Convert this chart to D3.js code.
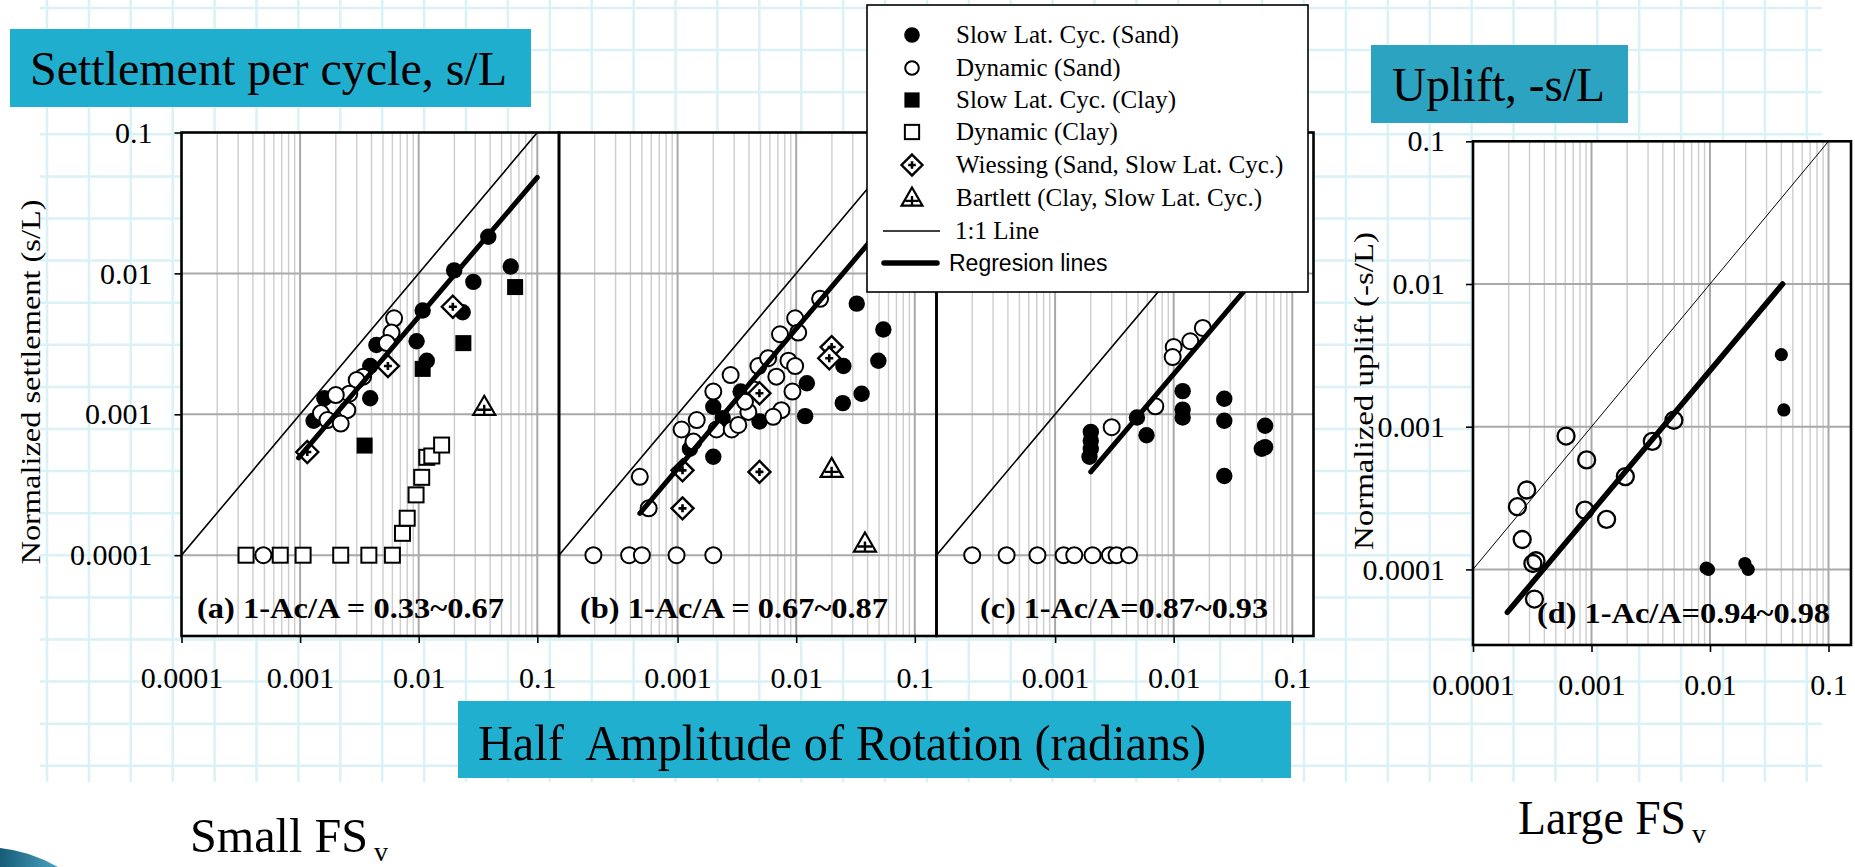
<!DOCTYPE html>
<html><head><meta charset="utf-8">
<script src="https://cdn.jsdelivr.net/npm/d3@7"></script>
<style>body{margin:0;background:#fff}svg{display:block}text{white-space:pre}</style>
</head><body>
<svg id="c" width="1855" height="867"></svg>
<script>
// ================= DATA =================
const xTickValsA = [1e-4, 1e-3, 1e-2, 1e-1];
const xTickTextA = ["0.0001", "0.001", "0.01", "0.1"];
const xTickValsBC = [1e-3, 1e-2, 1e-1];
const xTickTextBC = ["0.001", "0.01", "0.1"];
const yTickVals = [1e-1, 1e-2, 1e-3, 1e-4];
const yTickText = ["0.1", "0.01", "0.001", "0.0001"];

const panelLabels = ["(a) 1-Ac/A = 0.33~0.67", "(b) 1-Ac/A = 0.67~0.87", "(c) 1-Ac/A=0.87~0.93", "(d) 1-Ac/A=0.94~0.98"];
const legendLabels = ["Slow Lat. Cyc. (Sand)", "Dynamic (Sand)", "Slow Lat. Cyc. (Clay)", "Dynamic (Clay)",
  "Wiessing (Sand, Slow Lat. Cyc.)", "Bartlett (Clay, Slow Lat. Cyc.)", "1:1 Line", "Regresion lines"];
const legendTypes = ["fc", "oc", "fs", "os", "wd", "bt", "thin", "thick"];

const titleLeft = "Settlement per cycle, s/L";
const titleRight = "Uplift, -s/L";
const xTitle = "Half  Amplitude of Rotation (radians)";
const yTitleLeft = "Normalized settlement (s/L)";
const yTitleRight = "Normalized uplift (-s/L)";
const fsLabels = ["Small FS", "Large FS"];
const fsSub = "v";

const oneToOne = [[1e-4, 1e-4], [0.1, 0.1]];

// Panel (a)
const aSlowSand = [[0.0386,0.0182],[0.0199,0.0105],[0.0597,0.0112],[0.0289,0.0087],[0.0108,0.00545],[0.0235,0.0053],[0.0096,0.0033],[0.0117,0.0024],[0.0044,0.0031],[0.0039,0.0022],[0.0039,0.0013],[0.0016,0.0013],[0.0013,0.0009]];
const aDynSand = [[0.0062,0.0048],[0.0059,0.0038],[0.0054,0.0032],[0.0034,0.00185],[0.0030,0.00175],[0.0026,0.0014],[0.0020,0.00137],[0.0025,0.00107],[0.0015,0.00102],[0.0017,0.00091],[0.0022,0.00086],[0.00049,0.0001]];
const aSlowClay = [[0.065,0.008],[0.0238,0.0032],[0.0108,0.0021],[0.0035,0.0006]];
const aDynClay = [[0.00035,0.0001],[0.00068,0.0001],[0.00106,0.0001],[0.0022,0.0001],[0.0038,0.0001],[0.006,0.0001],[0.0073,0.000143],[0.008,0.000183],[0.0095,0.000268],[0.0106,0.000357],[0.0117,0.000495],[0.0129,0.000506],[0.0156,0.000605]];
const aWiessing = [[0.0194,0.0058],[0.0055,0.0022],[0.00115,0.00054]];
const aBartlett = [[0.0357,0.00113]];
const aRegression = [[0.00097,0.00049],[0.1,0.048]];

// Panel (b)
const bSlowSand = [[0.0324,0.0061],[0.0543,0.004],[0.0493,0.0024],[0.025,0.0022],[0.0356,0.0014],[0.0247,0.0012],[0.0123,0.00166],[0.0119,0.00097],[0.0049,0.00089],[0.0034,0.00145],[0.002,0.00113],[0.0024,0.00094],[0.00127,0.00057],[0.002,0.0005]];
const bDynSand = [[0.0159,0.0066],[0.0098,0.0048],[0.0104,0.0038],[0.0073,0.0037],[0.0028,0.0019],[0.002,0.00145],[0.00145,0.00091],[0.00108,0.00078],[0.00136,0.00064],[0.00213,0.00078],[0.00286,0.00078],[0.00325,0.00084],[0.00395,0.00104],[0.0048,0.0022],[0.0058,0.0025],[0.0068,0.00185],[0.0086,0.0024],[0.0098,0.0022],[0.0093,0.00145],[0.0075,0.00107],[0.0064,0.00096],[0.0044,0.0015],[0.0037,0.00123],[0.00048,0.00036],[0.00057,0.000215],[0.000195,0.0001],[0.00039,0.0001],[0.0005,0.0001],[0.00098,0.0001],[0.002,0.0001]];
const bWiessing = [[0.0199,0.003],[0.019,0.0025],[0.0049,0.00141],[0.0011,0.0004],[0.0049,0.00039],[0.0011,0.000215]];
const bBartlett = [[0.0199,0.00041],[0.038,0.000121]];
const bRegression = [[0.00048,0.000198],[0.1,0.04]];

// Panel (c)
const cSlowSand = [[0.0119,0.00146],[0.0119,0.00108],[0.0119,0.00095],[0.0267,0.00129],[0.0267,0.0009],[0.0267,0.000365],[0.059,0.00083],[0.059,0.000585],[0.0553,0.00057],[0.0049,0.00095],[0.0059,0.00071],[0.002,0.00075],[0.002,0.00065],[0.002,0.00057],[0.00195,0.0005]];
const cDynSand = [[0.0176,0.0041],[0.0138,0.0033],[0.01,0.003],[0.0098,0.00255],[0.007,0.00114],[0.003,0.00081],[0.0002,0.0001],[0.00039,0.0001],[0.00071,0.0001],[0.00118,0.0001],[0.00145,0.0001],[0.00207,0.0001],[0.0029,0.0001],[0.0033,0.0001],[0.0042,0.0001]];
const cRegression = [[0.002,0.00039],[0.1,0.019]];

// Panel (d)
const dSlowSand = [[0.040,0.0032],[0.042,0.00131],[0.0093,0.000102],[0.0097,0.0001],[0.0197,0.00011],[0.021,0.0001]];
const dDynSand = [[0.00061,0.00086],[0.00091,0.000585],[0.000284,0.00036],[0.000237,0.000275],[0.00026,0.000162],[0.00032,0.00011],[0.00034,0.000115],[0.00033,0.000062],[0.00088,0.00026],[0.00134,0.000224],[0.00193,0.000447],[0.00326,0.00079],[0.00496,0.00111]];
const dRegression = [[0.000195,0.00005],[0.041,0.01]];

// ================= DRAWING =================
const svg = d3.select("#c");
const SERIF = "'Liberation Serif','Times New Roman',serif";
const SANS = "'Liberation Sans',Arial,sans-serif";
const defs = svg.append("defs");

// background graph-paper grid
const bg = svg.append("g");
for (let x = 47; x < 1825; x += 41.9) bg.append("line").attr("x1", x).attr("x2", x).attr("y1", 0).attr("y2", 782).attr("stroke", "#daf1f6").attr("stroke-width", 2.5);
for (let y = 8; y < 785; y += 42.1) bg.append("line").attr("x1", 40).attr("x2", 1822).attr("y1", y).attr("y2", y).attr("stroke", "#daf1f6").attr("stroke-width", 2.5);

// bottom-left swoosh
const grad = defs.append("linearGradient").attr("id", "sw").attr("x1", "0").attr("x2", "1").attr("y1", "0").attr("y2", "0");
grad.append("stop").attr("offset", "0").attr("stop-color", "#175c78");
grad.append("stop").attr("offset", "1").attr("stop-color", "#4aa3c0");
svg.append("path").attr("d", "M0,848 Q30,851 58,867 L0,867 Z").attr("fill", "url(#sw)");

function makePanel(id, x0, x1, decX, yTopPx, yBotPx, decY) {
  const x = d3.scaleLog().domain([1e-4, Math.pow(10, -4 + (x1 - x0) / decX)]).range([x0, x1]);
  const y = d3.scaleLog().domain([Math.pow(10, -1 - (yBotPx - yTopPx) / decY), 0.1]).range([yBotPx, yTopPx]);
  defs.append("clipPath").attr("id", "clip" + id).append("rect")
    .attr("x", x0).attr("y", yTopPx).attr("width", x1 - x0).attr("height", yBotPx - yTopPx);
  return {x, y, x0, x1, yTopPx, yBotPx, id};
}

const pa = makePanel("a", 181.5, 559, 118.6, 132.5, 636, 140.9);
const pb = makePanel("b", 559, 936.5, 118.6, 132.5, 636, 140.9);
const pc = makePanel("c", 936.5, 1313.5, 118.6, 132.5, 636, 140.9);
const pd = makePanel("d", 1473, 1851, 118.5, 141.3, 645, 142.7);

function drawGrid(p) {
  const g = svg.append("g");
  g.append("rect").attr("x", p.x0).attr("y", p.yTopPx).attr("width", p.x1 - p.x0).attr("height", p.yBotPx - p.yTopPx).attr("fill", "#fff");
  const dom = p.x.domain();
  const vals = [];
  for (let e = -4; e <= -1; e++) for (let k = 1; k <= 9; k++) {
    const v = k * Math.pow(10, e);
    if (v > dom[0] * 1.0001 && v < dom[1]) vals.push({v, major: k === 1});
  }
  g.selectAll("line.v").data(vals).join("line")
    .attr("x1", d => p.x(d.v)).attr("x2", d => p.x(d.v))
    .attr("y1", p.yTopPx).attr("y2", p.yBotPx)
    .attr("stroke", d => d.major ? "#a9a9a9" : "#cdcdcd")
    .attr("stroke-width", d => d.major ? 2 : 1.4);
  g.selectAll("line.h").data([1e-2, 1e-3, 1e-4]).join("line")
    .attr("x1", p.x0).attr("x2", p.x1)
    .attr("y1", d => p.y(d)).attr("y2", d => p.y(d))
    .attr("stroke", "#a9a9a9").attr("stroke-width", 2);
}
[pa, pb, pc, pd].forEach(drawGrid);

// markers
function marker(g, type, cx, cy, s) {
  s = s || 1;
  if (type === "fc") g.append("circle").attr("cx", cx).attr("cy", cy).attr("r", 8.2 * s).attr("fill", "#000");
  else if (type === "fcs") g.append("circle").attr("cx", cx).attr("cy", cy).attr("r", 6.6 * s).attr("fill", "#000");
  else if (type === "oc") g.append("circle").attr("cx", cx).attr("cy", cy).attr("r", 8 * s).attr("fill", "#fff").attr("stroke", "#000").attr("stroke-width", 2);
  else if (type === "ocd") g.append("circle").attr("cx", cx).attr("cy", cy).attr("r", 8.5 * s).attr("fill", "none").attr("stroke", "#000").attr("stroke-width", 2.3);
  else if (type === "fs") g.append("rect").attr("x", cx - 8 * s).attr("y", cy - 8 * s).attr("width", 16 * s).attr("height", 16 * s).attr("fill", "#000");
  else if (type === "os") g.append("rect").attr("x", cx - 7.5 * s).attr("y", cy - 7.5 * s).attr("width", 15 * s).attr("height", 15 * s).attr("fill", "#fff").attr("stroke", "#000").attr("stroke-width", 2);
  else if (type === "wd") {
    const h = 11 * s;
    g.append("path").attr("d", `M${cx},${cy - h}L${cx + h},${cy}L${cx},${cy + h}L${cx - h},${cy}Z`).attr("fill", "#fff").attr("stroke", "#000").attr("stroke-width", 2.4);
    g.append("path").attr("d", `M${cx - 4 * s},${cy}H${cx + 4 * s}M${cx},${cy - 4 * s}V${cy + 4 * s}`).attr("stroke", "#000").attr("stroke-width", 2.6);
  } else if (type === "bt") {
    const w = 11 * s;
    g.append("path").attr("d", `M${cx},${cy - 11 * s}L${cx + w},${cy + 8 * s}L${cx - w},${cy + 8 * s}Z`).attr("fill", "#fff").attr("stroke", "#000").attr("stroke-width", 2.2);
    g.append("path").attr("d", `M${cx - 7 * s},${cy + 3 * s}H${cx + 7 * s}M${cx},${cy - 2 * s}V${cy + 8 * s}`).attr("stroke", "#000").attr("stroke-width", 2.4);
  }
}
function drawSeries(p, data, type) {
  const g = svg.append("g");
  data.forEach(d => marker(g, type, p.x(d[0]), p.y(d[1])));
}
function drawLine(p, data, w) {
  const line = d3.line().x(d => p.x(d[0])).y(d => p.y(d[1]));
  svg.append("path").attr("d", line(data)).attr("fill", "none").attr("stroke", "#000")
    .attr("stroke-width", w).attr("stroke-linecap", "round").attr("clip-path", `url(#clip${p.id})`);
}

// panel a
drawSeries(pa, aDynClay, "os");
drawSeries(pa, aSlowClay, "fs");
drawSeries(pa, aSlowSand, "fc");
drawSeries(pa, aDynSand, "oc");
drawSeries(pa, aWiessing, "wd");
drawSeries(pa, aBartlett, "bt");
drawLine(pa, oneToOne, 1.6);
drawLine(pa, aRegression, 5);
// panel b
drawSeries(pb, bSlowSand, "fc");
drawSeries(pb, bDynSand, "oc");
drawSeries(pb, bWiessing, "wd");
drawSeries(pb, bBartlett, "bt");
drawLine(pb, oneToOne, 1.6);
drawLine(pb, bRegression, 5);
// panel c
drawSeries(pc, cSlowSand, "fc");
drawSeries(pc, cDynSand, "oc");
drawLine(pc, oneToOne, 1.6);
drawLine(pc, cRegression, 5);
// panel d
drawSeries(pd, dDynSand, "ocd");
drawSeries(pd, dSlowSand, "fcs");
drawLine(pd, oneToOne, 1);
drawLine(pd, dRegression, 5.5);

// frames
[pa, pb, pc, pd].forEach(p => {
  svg.append("rect").attr("x", p.x0).attr("y", p.yTopPx).attr("width", p.x1 - p.x0).attr("height", p.yBotPx - p.yTopPx)
    .attr("fill", "none").attr("stroke", "#000").attr("stroke-width", 2.6);
});

// axes
function styleAxis(g, size) {
  g.select(".domain").remove();
  g.selectAll(".tick line").attr("stroke", "#000").attr("stroke-width", 1.6);
  g.selectAll(".tick text").attr("font-family", SERIF).attr("font-size", size).attr("fill", "#000");
}
function xAxis(p, vals, texts, pad) {
  const g = svg.append("g").attr("transform", `translate(0,${p.yBotPx})`)
    .call(d3.axisBottom(p.x).tickValues(vals).tickFormat((d, i) => texts[i]).tickSize(7).tickPadding(pad));
  styleAxis(g, 30);
}
function yAxis(p, pad) {
  const g = svg.append("g").attr("transform", `translate(${p.x0},0)`)
    .call(d3.axisLeft(p.y).tickValues(yTickVals).tickFormat((d, i) => yTickText[i]).tickSize(7).tickPadding(pad));
  styleAxis(g, 30);
}
xAxis(pa, xTickValsA, xTickTextA, 24);
xAxis(pb, xTickValsBC, xTickTextBC, 24);
xAxis(pc, xTickValsBC, xTickTextBC, 24);
xAxis(pd, xTickValsA, xTickTextA, 22);
yAxis(pa, 22);
yAxis(pd, 21);

// panel labels
const labelPos = [[197, 618, 307], [580, 618, 308], [980, 618, 288], [1537, 623, 293]];
labelPos.forEach((lp, i) => {
  svg.append("text").attr("x", lp[0]).attr("y", lp[1]).text(panelLabels[i])
    .attr("font-family", SERIF).attr("font-weight", "bold").attr("font-size", 30)
    .attr("textLength", lp[2]).attr("lengthAdjust", "spacingAndGlyphs");
});

// y titles
svg.append("text").attr("transform", "translate(40,382) rotate(-90)").attr("text-anchor", "middle")
  .attr("font-family", SERIF).attr("font-size", 28).attr("textLength", 365).attr("lengthAdjust", "spacingAndGlyphs").text(yTitleLeft);
svg.append("text").attr("transform", "translate(1373,391) rotate(-90)").attr("text-anchor", "middle")
  .attr("font-family", SERIF).attr("font-size", 28).attr("textLength", 318).attr("lengthAdjust", "spacingAndGlyphs").text(yTitleRight);

// title boxes
function titleBox(x, y, w, h, color, tx, ty, txt, size, tl) {
  svg.append("rect").attr("x", x).attr("y", y).attr("width", w).attr("height", h).attr("fill", color);
  const t = svg.append("text").attr("x", tx).attr("y", ty).attr("font-family", SERIF).attr("font-size", size).attr("fill", "#000").text(txt);
  if (tl) t.attr("textLength", tl).attr("lengthAdjust", "spacingAndGlyphs");
}
titleBox(10, 29, 521, 78, "#20aecf", 30, 85, titleLeft, 48, 477);
titleBox(1371, 45, 257, 78, "#2ba3c1", 1392, 101, titleRight, 48, 213);
titleBox(458, 701, 833, 77, "#21afd0", 478, 760, xTitle, 50, 728);

// Small / Large FSv
function fsText(x, y, main, w) {
  svg.append("text").attr("x", x).attr("y", y).attr("font-family", SERIF).attr("font-size", 48).attr("fill", "#000")
    .attr("textLength", w).attr("lengthAdjust", "spacingAndGlyphs").text(main);
  svg.append("text").attr("x", x + w + 6).attr("y", y + 9).attr("font-family", SERIF).attr("font-size", 28).attr("fill", "#000").text(fsSub);
}
fsText(190, 852, fsLabels[0], 178);
fsText(1518, 834, fsLabels[1], 168);

// legend
const lg = svg.append("g");
lg.append("rect").attr("x", 867).attr("y", 5).attr("width", 441).attr("height", 287).attr("fill", "#fff").attr("stroke", "#000").attr("stroke-width", 1.6);
const rowY = [35, 68, 100, 132, 165, 198, 231, 263];
legendTypes.forEach((t, i) => {
  const cy = rowY[i];
  if (t === "thin") lg.append("line").attr("x1", 883).attr("x2", 940).attr("y1", cy).attr("y2", cy).attr("stroke", "#000").attr("stroke-width", 1.6);
  else if (t === "thick") lg.append("line").attr("x1", 884).attr("x2", 937).attr("y1", cy).attr("y2", cy).attr("stroke", "#000").attr("stroke-width", 5.5).attr("stroke-linecap", "round");
  else if (t === "oc") marker(lg, "oc", 912, cy, 0.85);
  else marker(lg, t, 912, cy, 0.95);
  const isSans = t === "thick";
  lg.append("text").attr("x", isSans ? 949 : (t === "thin" ? 955 : 956)).attr("y", cy + 8)
    .attr("font-family", isSans ? SANS : SERIF).attr("font-size", isSans ? 23 : 25).attr("fill", "#000")
    .text(legendLabels[i]);
});
</script>
</body></html>
